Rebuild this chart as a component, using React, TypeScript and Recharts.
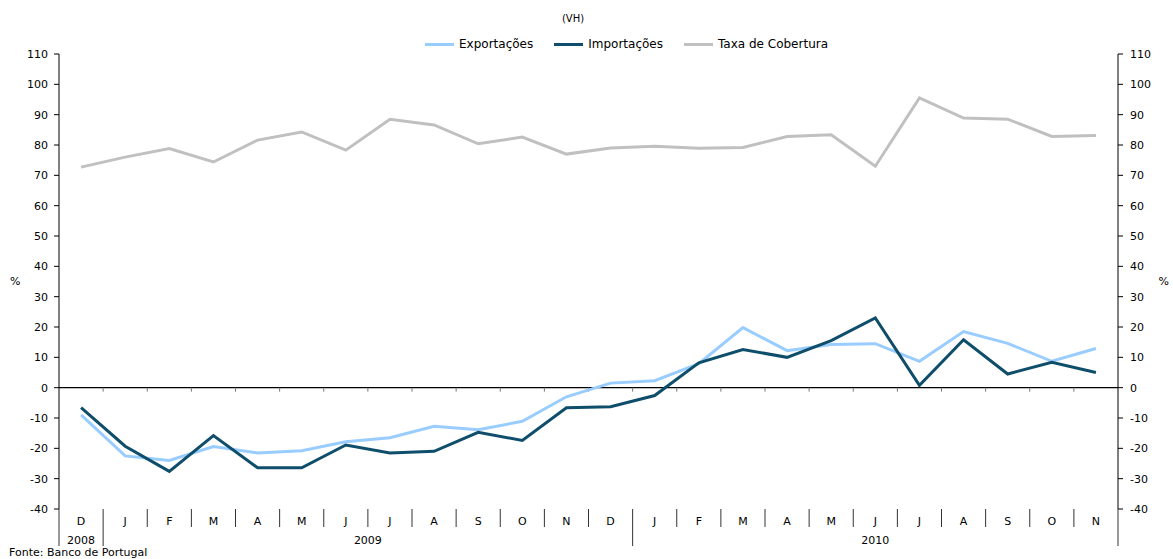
import { ComposedChart, Line, XAxis, YAxis, ReferenceLine, Legend } from 'recharts';

// meses: Dez 2008 até Nov 2010
const months = ['D', 'J', 'F', 'M', 'A', 'M', 'J', 'J', 'A', 'S', 'O', 'N', 'D', 'J', 'F', 'M', 'A', 'M', 'J', 'J', 'A', 'S', 'O', 'N'];
const years = [
  { label: '2008', first: 0, last: 0 },
  { label: '2009', first: 1, last: 12 },
  { label: '2010', first: 13, last: 23 },
];

const exportacoes = [-9.0, -22.5, -24.0, -19.4, -21.5, -20.8, -17.8, -16.5, -12.7, -13.9, -11.1, -3.0, 1.5, 2.3, 7.9, 19.8, 12.2, 14.2, 14.5, 8.7, 18.5, 14.6, 8.7, 12.9];
const importacoes = [-6.6, -19.3, -27.6, -15.8, -26.4, -26.4, -18.9, -21.5, -21.0, -14.7, -17.4, -6.6, -6.3, -2.6, 8.2, 12.6, 10.0, 15.5, 23.0, 0.8, 15.8, 4.5, 8.4, 5.0];
const taxaCobertura = [72.7, 76.0, 78.8, 74.4, 81.6, 84.3, 78.3, 88.5, 86.6, 80.4, 82.6, 77.0, 79.0, 79.6, 78.9, 79.2, 82.8, 83.4, 73.0, 95.5, 88.9, 88.5, 82.8, 83.1];

const seriesNames = ['Exportações', 'Importações', 'Taxa de Cobertura'];
const yTicks = [-40, -30, -20, -10, 0, 10, 20, 30, 40, 50, 60, 70, 80, 90, 100, 110];

const W = 1173;
const H = 559;
const LEFT_W = 59;
const RIGHT_W = 55;
const BAND = (W - LEFT_W - RIGHT_W) / months.length;
const FONT = 'DejaVu Sans, Arial, sans-serif';

const COLORS = { exp: '#99ccff', imp: '#0f4e6b', taxa: '#c0c0c0' };

const data = months.map((m, i) => ({
  idx: i,
  month: m,
  exp: exportacoes[i],
  imp: importacoes[i],
  taxa: taxaCobertura[i],
}));

function MonthTick(props: any) {
  const { x, y, payload } = props;
  const i = payload.value as number;
  const left = x - BAND / 2;
  const yearStart = years.find((yr) => yr.first === i);
  return (
    <g>
      <line x1={left} x2={left} y1={y} y2={y + (yearStart ? 37 : 18)} stroke="#333" strokeWidth={1} />
      {i === months.length - 1 && (
        <line x1={x + BAND / 2} x2={x + BAND / 2} y1={y} y2={y + 37} stroke="#333" strokeWidth={1} />
      )}
      <text x={x} y={y + 16} textAnchor="middle" fontSize={11} fill="#000" fontFamily={FONT}>
        {months[i]}
      </text>
      {yearStart && (
        <text
          x={x + ((yearStart.last - yearStart.first) * BAND) / 2}
          y={y + 35}
          textAnchor="middle"
          fontSize={11}
          fill="#000"
          fontFamily={FONT}
        >
          {yearStart.label}
        </text>
      )}
    </g>
  );
}

// linha do zero com pequenos traços entre os meses
function ZeroLine(props: any) {
  const { x1, y1, x2 } = props;
  const marks = [];
  for (let i = 1; i < months.length; i++) {
    const xm = x1 + i * BAND;
    marks.push(<line key={i} x1={xm} x2={xm} y1={y1} y2={y1 + 4} stroke="#777" strokeWidth={1} />);
  }
  return (
    <g>
      <line x1={x1} x2={x2} y1={y1} y2={y1} stroke="#000" strokeWidth={1.2} />
      {marks}
    </g>
  );
}

function LegendContent(props: any) {
  const items = (props.payload || []).filter((p: any) => seriesNames.includes(p.value));
  return (
    <div style={{ position: 'relative', height: 54, width: W, fontFamily: FONT, color: '#000' }}>
      <div style={{ position: 'absolute', left: 0, width: 1146, top: 13, textAlign: 'center', fontSize: 10 }}>
        (VH)
      </div>
      <div style={{ position: 'absolute', left: 425, top: 37, display: 'flex', alignItems: 'center', fontSize: 12, lineHeight: '14px' }}>
        {items.map((p: any) => (
          <div key={p.value} style={{ display: 'flex', alignItems: 'center', marginRight: 21 }}>
            <span style={{ display: 'inline-block', width: 29, height: 3, background: p.color, marginRight: 5 }} />
            <span>{p.value}</span>
          </div>
        ))}
      </div>
    </div>
  );
}

export default function App() {
  return (
    <div style={{ position: 'absolute', left: 0, top: 0, width: W, height: H, fontFamily: FONT, background: '#fff' }}>
      <ComposedChart width={W} height={H} data={data} margin={{ top: 0, right: 0, bottom: 0, left: 0 }}>
        <Legend
          verticalAlign="top"
          align="left"
          content={<LegendContent />}
          wrapperStyle={{ top: 0, left: 0, width: W }}
        />
        <XAxis
          dataKey="idx"
          type="category"
          height={50}
          axisLine={false}
          tickLine={false}
          tickSize={0}
          tickMargin={0}
          interval={0}
          padding={{ left: BAND / 2, right: BAND / 2 }}
          tick={<MonthTick />}
        />
        <YAxis
          yAxisId="left"
          orientation="left"
          width={LEFT_W}
          domain={[-40, 110]}
          ticks={yTicks}
          interval={0}
          tickSize={5}
          tickMargin={6}
          axisLine={{ stroke: '#000' }}
          tickLine={{ stroke: '#000' }}
          tick={{ fontSize: 11, fill: '#000', fontFamily: FONT }}
          label={{ value: '%', position: 'insideLeft', offset: 10, fontSize: 11, fill: '#000', fontFamily: FONT }}
        />
        <YAxis
          yAxisId="right"
          orientation="right"
          width={RIGHT_W}
          domain={[-40, 110]}
          ticks={yTicks}
          interval={0}
          tickSize={5}
          tickMargin={7}
          axisLine={{ stroke: '#000' }}
          tickLine={{ stroke: '#000' }}
          tick={{ fontSize: 11, fill: '#000', fontFamily: FONT }}
          label={{ value: '%', position: 'insideRight', offset: 4, fontSize: 11, fill: '#000', fontFamily: FONT }}
        />
        <ReferenceLine yAxisId="left" y={0} shape={<ZeroLine />} />
        <Line
          yAxisId="left"
          type="linear"
          dataKey="exp"
          name="Exportações"
          stroke={COLORS.exp}
          strokeWidth={3}
          dot={false}
          activeDot={false}
          isAnimationActive={false}
        />
        <Line
          yAxisId="left"
          type="linear"
          dataKey="imp"
          name="Importações"
          stroke={COLORS.imp}
          strokeWidth={3}
          dot={false}
          activeDot={false}
          isAnimationActive={false}
        />
        <Line
          yAxisId="left"
          type="linear"
          dataKey="taxa"
          name="Taxa de Cobertura"
          stroke={COLORS.taxa}
          strokeWidth={3}
          dot={false}
          activeDot={false}
          isAnimationActive={false}
        />
        {/* eixo da direita espelha o da esquerda */}
        <Line
          yAxisId="right"
          type="linear"
          dataKey="taxa"
          stroke="none"
          legendType="none"
          dot={false}
          activeDot={false}
          isAnimationActive={false}
        />
      </ComposedChart>
      <div style={{ position: 'absolute', left: 9, top: 547, fontSize: 11, lineHeight: '12px', color: '#000' }}>
        Fonte: Banco de Portugal
      </div>
    </div>
  );
}
